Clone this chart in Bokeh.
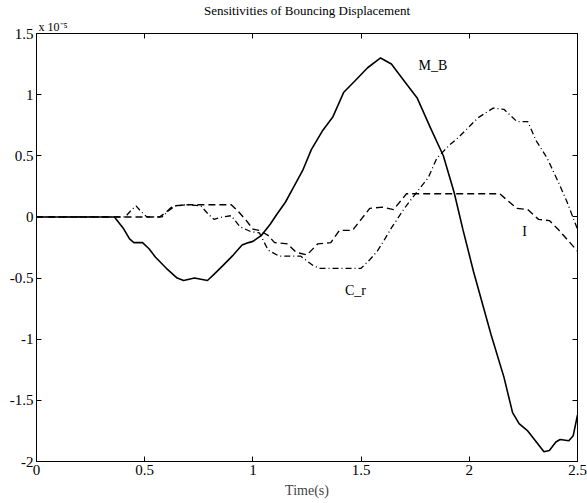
from bokeh.plotting import figure
from bokeh.models import Range1d, FixedTicker, LinearAxis, Label, Title
from bokeh.embed import file_html
from bokeh.resources import INLINE

# ---------------- data (y in units of 1e-5) ----------------
mb_t = [0, 0.36, 0.40, 0.43, 0.45, 0.49, 0.52, 0.55, 0.60, 0.65, 0.68, 0.73, 0.79, 0.82,
        0.86, 0.91, 0.95, 0.98, 1.00, 1.04, 1.08, 1.11, 1.15, 1.19, 1.23, 1.27, 1.32,
        1.37, 1.42, 1.47, 1.53, 1.59, 1.64, 1.70, 1.76, 1.82, 1.88, 1.93, 1.97, 2.02,
        2.10, 2.16, 2.20, 2.23, 2.27, 2.31, 2.345, 2.37, 2.40, 2.42, 2.46, 2.48, 2.5]
mb_y = [0, 0, -0.09, -0.18, -0.21, -0.21, -0.26, -0.33, -0.42, -0.50, -0.52, -0.50, -0.52, -0.47,
        -0.40, -0.31, -0.23, -0.21, -0.20, -0.15, -0.06, 0.02, 0.12, 0.25, 0.38, 0.55, 0.70,
        0.82, 1.02, 1.11, 1.22, 1.30, 1.25, 1.11, 0.97, 0.73, 0.50, 0.20, -0.10, -0.45,
        -0.96, -1.31, -1.60, -1.69, -1.75, -1.84, -1.92, -1.91, -1.84, -1.82, -1.83, -1.79, -1.62]

i_t = [0, 0.57, 0.60, 0.63, 0.70, 0.80, 0.90, 0.93, 0.97, 1.00, 1.03, 1.07, 1.10, 1.16,
       1.20, 1.25, 1.30, 1.36, 1.40, 1.46, 1.50, 1.54, 1.60, 1.65, 1.71, 1.80, 2.14,
       2.18, 2.22, 2.27, 2.32, 2.37, 2.41, 2.44, 2.5]
i_y = [0, 0, 0.04, 0.09, 0.10, 0.10, 0.10, 0.05, -0.03, -0.10, -0.11, -0.15, -0.21, -0.22,
       -0.29, -0.31, -0.22, -0.21, -0.11, -0.11, -0.02, 0.07, 0.08, 0.06, 0.19, 0.19, 0.19,
       0.13, 0.07, 0.06, -0.02, -0.03, -0.10, -0.16, -0.28]

cr_t = [0, 0.41, 0.44, 0.46, 0.48, 0.51, 0.58, 0.61, 0.64, 0.70, 0.76, 0.79, 0.82, 0.86,
        0.90, 0.94, 0.99, 1.03, 1.07, 1.12, 1.22, 1.28, 1.31, 1.50, 1.54, 1.575, 1.61,
        1.64, 1.70, 1.76, 1.81, 1.85, 1.91, 1.95, 2.04, 2.11, 2.16, 2.22, 2.27, 2.31,
        2.36, 2.41, 2.45, 2.5]
cr_y = [0, 0, 0.06, 0.09, 0.05, 0, 0, 0.05, 0.09, 0.10, 0.09, 0.03, -0.02, 0.0,
        0.01, -0.08, -0.12, -0.13, -0.27, -0.32, -0.32, -0.40, -0.42, -0.42, -0.35, -0.28, -0.18,
        -0.09, 0.07, 0.21, 0.32, 0.48, 0.59, 0.65, 0.81, 0.89, 0.88, 0.78, 0.78, 0.62,
        0.48, 0.29, 0.13, -0.10]

x_ticks = [0, 0.5, 1, 1.5, 2, 2.5]
x_tick_labels = ["0", "0.5", "1", "1.5", "2", "2.5"]
y_ticks = [-2, -1.5, -1, -0.5, 0, 0.5, 1, 1.5]
y_tick_labels = ["-2", "-1.5", "-1", "-0.5", "0", "0.5", "1", "1.5"]

title_text = "Sensitivities of Bouncing Displacement"
scale_text = "x 10\u207b\u2075"
x_label = "Time(s)"
series_labels = ["M_B", "I", "C_r"]

FONT = "Liberation Serif"

p = figure(width=587, height=503, output_backend="svg", toolbar_location=None,
           x_range=Range1d(0, 2.5), y_range=Range1d(-2, 1.5),
           x_axis_location=None, y_axis_location=None,
           min_border_left=36, min_border_right=10, min_border_top=32, min_border_bottom=42)
p.grid.visible = False
p.outline_line_color = "black"
p.outline_line_width = 1
p.background_fill_color = "white"
p.border_fill_color = "white"


def make_axis(ticks, labels, show_labels):
    ax = LinearAxis(ticker=FixedTicker(ticks=ticks))
    ax.major_tick_in = 5
    ax.major_tick_out = 0
    ax.minor_tick_in = 0
    ax.minor_tick_out = 0
    ax.axis_line_color = "black"
    ax.major_tick_line_color = "black"
    ax.major_label_text_font = FONT
    ax.major_label_text_color = "black"
    ax.major_label_text_font_size = "15px"
    ax.major_label_standoff = 3
    if show_labels:
        ax.major_label_overrides = {t: l for t, l in zip(ticks, labels)}
    else:
        ax.major_label_overrides = {t: "" for t in ticks}
        ax.major_label_standoff = 0
        ax.major_label_text_font_size = "0px"
    return ax


xb = make_axis(x_ticks, x_tick_labels, True)
xb.major_label_standoff = 3
xb.axis_label = x_label
xb.axis_label_text_font = FONT
xb.axis_label_text_font_style = "normal"
xb.axis_label_text_font_size = "14px"
xb.axis_label_standoff = 5
p.add_layout(xb, "below")
p.add_layout(make_axis(x_ticks, x_tick_labels, False), "above")
p.add_layout(make_axis(y_ticks, y_tick_labels, True), "left")
p.add_layout(make_axis(y_ticks, y_tick_labels, False), "right")

# scale factor (nearest the frame) and chart title (outermost)
p.add_layout(Title(text=scale_text, align="left", offset=2, standoff=0,
                   text_font=FONT, text_font_size="12px", text_font_style="normal",
                   text_color="black"), "above")
p.title.text = title_text
p.title.align = "center"
p.title.standoff = 0
p.title.text_font = FONT
p.title.text_font_size = "13px"
p.title.text_font_style = "normal"
p.title.text_color = "black"

p.line(mb_t, mb_y, line_color="black", line_width=1.6)
p.line(i_t, i_y, line_color="black", line_width=1.4, line_dash="7 4")
p.line(cr_t, cr_y, line_color="black", line_width=1.3, line_dash="6 3 1 3")


def lab(x, y, text, size="14px", align="left"):
    p.add_layout(Label(x=x, y=y, text=text, text_align=align, text_baseline="middle",
                       text_font=FONT, text_font_size=size, text_color="black"))


lab(1.765, 1.24, series_labels[0])
lab(2.255, -0.12, series_labels[1], align="center")
lab(1.474, -0.60, series_labels[2], align="center")

open("out.html", "w").write(file_html(p, INLINE))
